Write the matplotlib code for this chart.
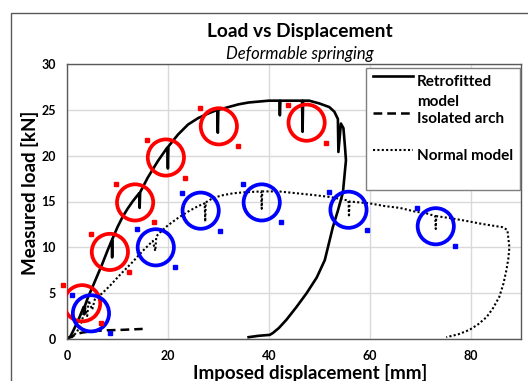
import numpy as np
import matplotlib
matplotlib.use('Agg')
import matplotlib.pyplot as plt
from matplotlib.patches import Rectangle
from matplotlib.transforms import offset_copy
from matplotlib.legend_handler import HandlerLine2D

plt.rcParams['font.family'] = ['Lato', 'DejaVu Sans']

# retrofitted model (solid)
retro_x = [0, 0.7, 1.5, 2.5, 3.3, 3.45, 3.6, 4.2, 5, 6, 7, 8, 8.9, 8.95, 9.0, 10, 11, 12, 13,
           14.3, 14.4, 14.5, 16, 18, 19.9, 20.0, 20.1, 22, 24, 26, 28, 29.8, 29.9, 30.0, 32,
           34, 36, 38, 40, 42.1, 42.2, 42.3, 44, 46.6, 46.7, 46.8, 48, 50, 52, 53, 53.7, 53.8,
           54.3, 54.8, 55.1, 55.3, 54.7, 53.7, 52.7, 51.1, 49.5, 47.5, 45.5, 43.5, 42, 40.8,
           40.2, 38, 36]
retro_y = [0, 0.3, 1.2, 2.4, 3.5, 2.7, 3.7, 4.6, 5.6, 6.9, 8.2, 9.6, 10.8, 8.9, 10.9, 12.2, 13.3,
           14.2, 15.0, 15.9, 14.3, 16.0, 17.6, 19.4, 20.9, 18.6, 21.0, 22.3, 23.4, 24.1, 24.6,
           25.0, 22.5, 25.0, 25.3, 25.6, 25.8, 25.9, 26.0, 26.0, 24.4, 26.0, 26.0, 26.0, 22.6,
           26.0, 26.0, 25.7, 25.3, 24.8, 24.0, 20.4, 23.5, 23.0, 21.0, 19.5, 16.0, 14.0, 12.2,
           8.6, 6.7, 5.0, 3.5, 2.1, 1.2, 0.65, 0.45, 0.35, 0.2]

# isolated arch (dashed)
arch_x = [0, 1, 2, 3, 5, 8, 11, 15]
arch_y = [0, 0.3, 0.55, 0.7, 0.85, 0.95, 1.0, 1.1]

# normal model (dotted)
normal_x = [0, 1, 2, 3, 3.5, 4, 4.3, 5, 5.5, 7, 8.5, 10.5, 13, 15, 17, 17.5, 17.7, 18.4, 20, 22,
            24, 26, 27.3, 27.4, 27.5, 29, 31, 33, 35, 38.5, 38.6, 38.7, 42, 45.5, 49, 52, 54,
            55.8, 55.9, 56, 58, 60, 63, 66, 69, 71.3, 73, 73.1, 73.2, 75.8, 79, 81.8, 84, 86.3,
            87.3, 87.7, 87.5, 87.1, 86.5, 85.7, 84.5, 83.2, 81.5, 79.8, 77.5, 75.2]
normal_y = [0, 0.2, 0.8, 2.0, 3.5, 2.5, 4.2, 3.2, 4.3, 5.0, 5.8, 7.0, 8.4, 9.6, 10.7, 9.6, 11.2,
            11.6, 12.4, 13.2, 13.9, 14.5, 14.8, 12.8, 14.9, 15.4, 15.7, 15.9, 16.0, 16.1, 14.2,
            16.1, 16.1, 15.9, 15.7, 15.5, 15.3, 15.1, 13.3, 15.0, 14.9, 14.8, 14.5, 14.3, 13.9,
            13.7, 13.4, 12.0, 13.4, 13.2, 12.9, 12.6, 12.4, 12.2, 11.9, 10.0, 8.8, 7.5, 6.0,
            4.6, 3.4, 2.4, 1.6, 1.0, 0.5, 0.2]

# highlight circles
red_cx = [3.0, 8.5, 13.5, 19.6, 30.1, 47.5]
red_cy = [3.9, 9.5, 14.9, 19.8, 23.2, 23.6]
blue_cx = [4.75, 17.6, 26.5, 38.6, 55.8, 73.1]
blue_cy = [2.8, 10.0, 14.0, 14.9, 14.1, 12.3]

labels = ['Retrofitted\nmodel', 'Isolated arch\n ', 'Normal model\n ']


class FirstLineHandler(HandlerLine2D):
    # put the sample line next to the first text line
    def create_artists(self, legend, orig_handle, xdescent, ydescent, width, height,
                       fontsize, trans):
        arts = super().create_artists(legend, orig_handle, xdescent, ydescent, width,
                                      height, fontsize, trans)
        for a in arts:
            a.set_ydata(np.asarray(a.get_ydata()) + 1.05 * fontsize)
        return arts


fig = plt.figure(figsize=(5.28, 3.81), dpi=100)
ax = fig.add_axes([67/528, 1 - 339/381, 454/528, 275/381])

l1, = ax.plot(retro_x, retro_y, color='black', lw=1.9, solid_joinstyle='round')
l2, = ax.plot(arch_x, arch_y, color='black', lw=1.8, linestyle=(0, (3.5, 2)))
l3, = ax.plot(normal_x, normal_y, color='black', lw=1.5, linestyle=(0, (1, 1.1)))

ax.scatter(red_cx, red_cy, s=680, facecolors='none', edgecolors='#ff0000', linewidths=2.7, zorder=5)
ax.scatter(blue_cx, blue_cy, s=680, facecolors='none', edgecolors='#0000ff', linewidths=2.7, zorder=5)

# selection handles of the circles
tl = offset_copy(ax.transData, fig=fig, x=-19, y=18, units='dots')
br = offset_copy(ax.transData, fig=fig, x=19, y=-20, units='dots')
for cx, cy, c in [(red_cx, red_cy, '#ff0000'), (blue_cx, blue_cy, '#0000ff')]:
    ax.plot(cx, cy, 's', color=c, ms=3, lw=0, transform=tl, zorder=6, clip_on=False)
    ax.plot(cx, cy, 's', color=c, ms=3, lw=0, transform=br, zorder=6, clip_on=False)

ax.set_xlim(0, 90)
ax.set_ylim(0, 30)
ax.set_xticks([0, 20, 40, 60, 80])
ax.set_yticks([0, 5, 10, 15, 20, 25, 30])
ax.grid(True, color='#d9d9d9', lw=1)
ax.set_axisbelow(True)
ax.tick_params(length=0, labelsize=9, pad=8)
for t in ax.get_xticklabels() + ax.get_yticklabels():
    t.set_fontweight('bold')
for s in ax.spines.values():
    s.set_color('#595959')
    s.set_linewidth(1)

ax.set_xlabel('Imposed displacement [mm]', fontsize=13.5, fontweight='bold', va='center')
ax.xaxis.set_label_coords((310 - 67) / 454, (339 - 373) / 275)
ax.set_ylabel('Measured load [kN]', fontsize=13.5, fontweight='bold', va='center')
ax.yaxis.set_label_coords((30 - 67) / 454, (339 - 193) / 275)

fig.text(300/528, 1 - 31/381, 'Load vs Displacement', fontsize=13.8, fontweight='bold',
         ha='center', va='center')
fig.text(300/528, 1 - 54/381, 'Deformable springing', fontsize=12, fontstyle='italic',
         ha='center', va='center')

leg = ax.legend([l1, l2, l3], labels, loc='upper right', bbox_to_anchor=(0.998, 0.985),
                borderaxespad=0, fancybox=False, edgecolor='#7f7f7f', framealpha=1,
                prop={'weight': 'bold', 'size': 11}, handlelength=2.6, handletextpad=0.3,
                labelspacing=0.18, borderpad=0.45,
                handler_map={l1: FirstLineHandler(), l2: FirstLineHandler(), l3: FirstLineHandler()})
leg.get_frame().set_linewidth(1)
for t in leg.get_texts():
    t.set_linespacing(1.55)

fig.patches.append(Rectangle((11/528, -0.1), 1.0, 1.1 - 13/381, transform=fig.transFigure,
                             fill=False, edgecolor='#595959', lw=1))

fig.savefig('out.png', dpi=100)
